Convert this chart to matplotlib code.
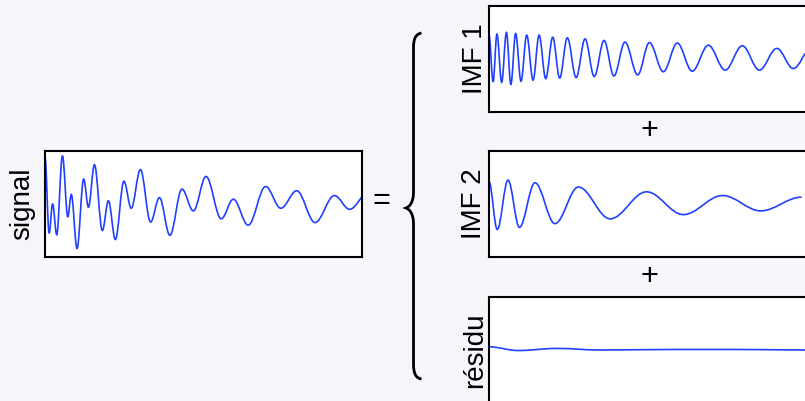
import matplotlib
matplotlib.use("Agg")
import matplotlib.pyplot as plt
from matplotlib.path import Path
from matplotlib.patches import PathPatch

# extrema of each curve (time 0..1, amplitude -1..1)
signal_t = [0.0, 0.013, 0.024, 0.037, 0.055, 0.072, 0.083, 0.101, 0.122, 0.137,
            0.156, 0.181, 0.200, 0.222, 0.249, 0.272, 0.301, 0.333, 0.361, 0.394,
            0.432, 0.468, 0.508, 0.556, 0.594, 0.641, 0.696, 0.744, 0.794, 0.852,
            0.913, 0.961, 1.02]
signal_v = [0.89, -0.55, 0.0, -0.58, 0.91, -0.24, 0.18, -0.84, 0.47, -0.06,
            0.74, -0.50, 0.06, -0.67, 0.43, -0.08, 0.65, -0.34, 0.12, -0.59,
            0.28, -0.13, 0.52, -0.28, 0.09, -0.40, 0.33, -0.08, 0.25, -0.35,
            0.16, -0.10, 0.22]

imf1_t = [0.0, 0.013, 0.025, 0.040, 0.055, 0.069, 0.084, 0.101, 0.119, 0.139,
          0.158, 0.179, 0.201, 0.223, 0.247, 0.275, 0.303, 0.332, 0.363, 0.394,
          0.429, 0.469, 0.506, 0.550, 0.594, 0.641, 0.692, 0.745, 0.799, 0.853,
          0.908, 0.960, 1.015]
imf1_v = [0.45, -0.43, 0.47, -0.44, 0.50, -0.48, 0.48, -0.42, 0.45, -0.40,
          0.45, -0.37, 0.41, -0.36, 0.40, -0.35, 0.38, -0.33, 0.35, -0.32,
          0.32, -0.30, 0.31, -0.24, 0.30, -0.23, 0.26, -0.21, 0.25, -0.21,
          0.20, -0.18, 0.19]

imf2_t = [0.0, 0.026, 0.060, 0.096, 0.145, 0.208, 0.282, 0.382, 0.497, 0.613,
          0.737, 0.857, 0.986]
imf2_v = [0.42, -0.48, 0.45, -0.44, 0.40, -0.37, 0.32, -0.28, 0.23, -0.20,
          0.16, -0.13, 0.13]

resid_t = [0.0, 0.092, 0.214, 0.35, 0.58, 0.79, 1.0]
resid_v = [0.06, -0.01, 0.03, 0.0, 0.01, 0.01, 0.0]

labels = ["signal", "IMF 1", "IMF 2", "résidu"]

W, H = 805, 401
BG = "#f5f5fa"
BLUE = "#2040ff"
FONT = "Liberation Sans"


def px_axes(fig, left, top, width, height):
    # axes placed with pixel coordinates (origin top-left)
    return fig.add_axes([left / W, (H - top - height) / H, width / W, height / H])


def wave_path(t, v, k=0.36):
    # smooth curve through the extrema, horizontal tangent at each one
    verts = [(t[0], v[0])]
    codes = [Path.MOVETO]
    for i in range(1, len(t)):
        dt = t[i] - t[i - 1]
        verts += [(t[i - 1] + k * dt, v[i - 1]), (t[i] - k * dt, v[i]), (t[i], v[i])]
        codes += [Path.CURVE4] * 3
    return Path(verts, codes)


def panel(fig, left, top, t, v):
    ax = px_axes(fig, left, top, 317, 106)
    ax.set_facecolor("white")
    ax.add_patch(PathPatch(wave_path(t, v), fill=False, ec=BLUE, lw=1.2))
    ax.set_xlim(0, 1)
    ax.set_ylim(-1, 1)
    ax.set_xticks([])
    ax.set_yticks([])
    for s in ax.spines.values():
        s.set_linewidth(1.5)
    return ax


def main():
    fig = plt.figure(figsize=(W / 100, H / 100), dpi=100)
    fig.patch.set_facecolor(BG)

    panel(fig, 45, 151, signal_t, signal_v)
    panel(fig, 489, 6, imf1_t, imf1_v)
    panel(fig, 489, 151, imf2_t, imf2_v)
    panel(fig, 489, 297, resid_t, resid_v)

    # overlay in pixel coordinates for labels, signs and the brace
    over = fig.add_axes([0, 0, 1, 1], zorder=5)
    over.set_xlim(0, W)
    over.set_ylim(H, 0)
    over.axis("off")
    over.patch.set_alpha(0)

    kw = dict(rotation=90, rotation_mode="anchor", ha="center", va="baseline",
              fontsize=20, family=FONT)
    over.text(29.5, 204, labels[0], **kw)
    over.text(482, 59, labels[1], **kw)
    over.text(481, 204, labels[2], **kw)
    over.text(482, 350, labels[3], **kw)

    over.text(381, 201, "=", ha="center", va="center", fontsize=22, family=FONT)
    over.text(649, 131.5, "+", ha="center", va="center", fontsize=22, family=FONT)
    over.text(649, 277, "+", ha="center", va="center", fontsize=22, family=FONT)

    verts = [(421.5, 33), (416, 34), (413.5, 38), (413.5, 48),
             (413.5, 192),
             (413.5, 203), (409, 207), (406, 208),
             (409, 209), (413.5, 213), (413.5, 224),
             (413.5, 364),
             (413.5, 374), (416, 378), (421.5, 379)]
    codes = [Path.MOVETO, Path.CURVE4, Path.CURVE4, Path.CURVE4,
             Path.LINETO,
             Path.CURVE4, Path.CURVE4, Path.CURVE4,
             Path.CURVE4, Path.CURVE4, Path.CURVE4,
             Path.LINETO,
             Path.CURVE4, Path.CURVE4, Path.CURVE4]
    over.add_patch(PathPatch(Path(verts, codes), fill=False, ec="black", lw=2.0))

    fig.savefig("out.png", dpi=100, facecolor=BG)


if __name__ == "__main__":
    main()
